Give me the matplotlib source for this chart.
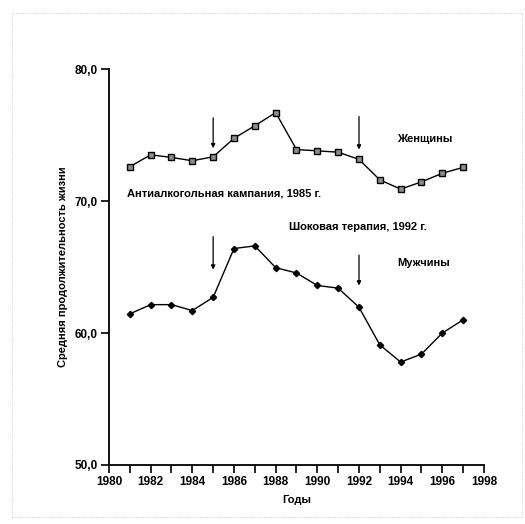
import matplotlib
matplotlib.use('Agg')
import matplotlib.pyplot as plt
from matplotlib.patches import Rectangle

# DATA

years = list(range(1981, 1998))
women = [72.6, 73.5, 73.3, 73.05, 73.35, 74.75, 75.7, 76.7, 73.9, 73.8, 73.7,
         73.15, 71.6, 70.9, 71.45, 72.1, 72.55]
men = [61.45, 62.15, 62.15, 61.7, 62.7, 66.4, 66.6, 64.95, 64.55, 63.6, 63.4,
       61.95, 59.1, 57.8, 58.4, 60.0, 61.0]

# arrows: (year, y_start, y_end)
arrows = [(1985, 76.3, 74.0), (1992, 76.4, 73.9), (1985, 67.3, 64.8), (1992, 65.9, 63.6)]

labels = [(1993.85, 74.7, 'Женщины'),
          (1993.85, 65.3, 'Мужчины'),
          (1980.85, 70.55, 'Антиалкогольная кампания, 1985 г.'),
          (1988.65, 68.05, 'Шоковая терапия, 1992 г.')]

x_ticks = list(range(1980, 1999))
y_ticks = [50, 60, 70, 80]

# PLOT

plt.rcParams['font.family'] = ['Liberation Sans', 'DejaVu Sans']
fig = plt.figure(figsize=(5.25, 5.24), dpi=100)
ax = fig.add_axes([0.2076, 0.1126, 0.9219 - 0.2076, 0.8683 - 0.1126])

ax.plot(years, women, color='black', lw=1.0, marker='s', ms=4.5,
        mfc='0.55', mec='black', mew=1.0)
ax.plot(years, men, color='black', lw=1.0, marker='D', ms=3.2,
        mfc='black', mec='black')

for x, y0, y1 in arrows:
    ax.annotate('', xy=(x, y1), xytext=(x, y0),
                arrowprops=dict(arrowstyle='-|>', color='black', lw=0.9,
                                mutation_scale=6, shrinkA=0, shrinkB=0))

for x, y, s in labels:
    ax.text(x, y, s, fontsize=8, fontweight='bold', ha='left', va='center')

ax.set_xlim(1980, 1998)
ax.set_ylim(50, 80)
ax.set_xticks(x_ticks)
ax.set_xticklabels([str(t) if t % 2 == 0 else '' for t in x_ticks])
ax.set_yticks(y_ticks)
ax.set_yticklabels([f'{t},0' for t in y_ticks])
ax.tick_params(axis='both', direction='out', length=6, width=1.2,
               labelsize=8.5, pad=2)
for lab in ax.get_xticklabels() + ax.get_yticklabels():
    lab.set_fontweight('bold')

for side in ['top', 'right']:
    ax.spines[side].set_visible(False)
for side in ['left', 'bottom']:
    ax.spines[side].set_linewidth(1.3)

ax.set_xlabel('Годы', fontsize=8, fontweight='bold', labelpad=5)
ax.set_ylabel('Средняя продолжительность жизни', fontsize=8,
              fontweight='bold', labelpad=5)

# faint scan frame
fig.patches.append(Rectangle((0.023, 0.013), 0.971, 0.962, transform=fig.transFigure,
                             fill=False, ec='0.75', lw=0.6, ls=':'))

fig.savefig('out.png', dpi=100)
